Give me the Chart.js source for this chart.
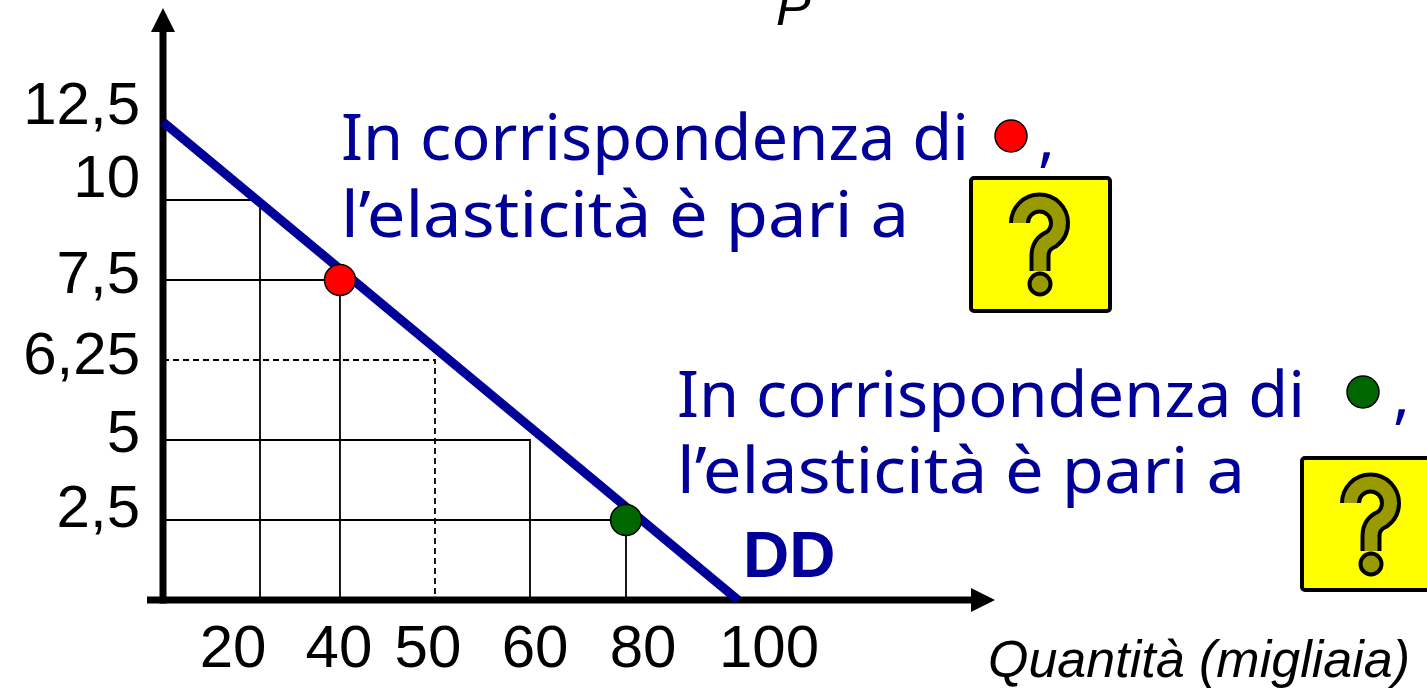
<!DOCTYPE html>
<html>
<head>
<meta charset="utf-8">
<script src="https://cdn.jsdelivr.net/npm/chart.js@4.4.1/dist/chart.umd.min.js"></script>
<style>
    html, body { margin: 0; padding: 0; background: #fff; }
    #wrap { width: 1427px; height: 692px; }
</style>
</head>
<body>
<div id="wrap"><canvas id="chart"></canvas></div>
<script>
// demand curve DD: P = 12.5 - Q/8
const demandQ = [0, 100]
const demandP = [12.5, 0]

// the two marked points
const pointQ = [40, 80]
const pointP = [7.5, 2.5]
const pointColors = ['#ff0000', '#006600']

// drop lines to the axes (the 50 / 6,25 one is dashed)
const guideQ = [20, 40, 50, 60, 80]
const guideP = [10, 7.5, 6.25, 5, 2.5]
const guideDashed = [false, false, true, false, false]

// axis labels
const xTicks = [20, 40, 50, 60, 80, 100]
const yTicks = [2.5, 5, 6.25, 7.5, 10, 12.5]
const xTitle = 'Quantità (migliaia)'
const yTitle = 'P'
const curveLabel = 'DD'
const noteLine1 = 'In corrispondenza di'
const noteLine2 = 'l’elasticità è pari a'

const BLUE = '#000099'

// the slide is not drawn to scale, so the axes map values piecewise
class PiecewiseScale extends Chart.LinearScale {
    static id = 'piecewise'
    static defaults = {}

    toDecimal(v) {
        const a = this.options.anchors
        if (v <= a[0][0]) return a[0][1]
        for (let i = 1; i < a.length; i++) {
            if (v <= a[i][0]) {
                const [v0, d0] = a[i - 1], [v1, d1] = a[i]
                return d0 + (v - v0) / (v1 - v0) * (d1 - d0)
            }
        }
        return a[a.length - 1][1]
    }

    getPixelForValue(v) {
        return v == null ? NaN : this.getPixelForDecimal(this.toDecimal(v))
    }

    getValueForPixel(p) {
        const d = this.getDecimalForPixel(p)
        const a = this.options.anchors
        for (let i = 1; i < a.length; i++) {
            if (d <= a[i][1]) {
                const [v0, d0] = a[i - 1], [v1, d1] = a[i]
                return v0 + (d - d0) / (d1 - d0) * (v1 - v0)
            }
        }
        return a[a.length - 1][0]
    }

    // labels on the slide sit a little off their grid lines
    getPixelForTick(i) {
        const shift = this.options.labelShift || []
        return super.getPixelForTick(i) + (shift[i] || 0)
    }
}
Chart.register(PiecewiseScale)

const fmt = v => String(v).replace('.', ',')

function guideSet(i) {
    return {
        data: [{x: 0, y: guideP[i]}, {x: guideQ[i], y: guideP[i]}, {x: guideQ[i], y: 0}],
        borderColor: '#000',
        borderWidth: 1.8,
        borderDash: guideDashed[i] ? [6, 4] : [],
        pointRadius: 0,
        order: 3,
        clip: false
    }
}

function scaledText(ctx, str, x, y, width) {
    const w = ctx.measureText(str).width
    ctx.save()
    ctx.translate(x, y)
    ctx.scale(width / w, 1)
    ctx.fillText(str, 0, 0)
    ctx.restore()
}

function dot(ctx, x, y, color) {
    ctx.beginPath()
    ctx.arc(x, y, 16, 0, Math.PI * 2)
    ctx.fillStyle = color
    ctx.fill()
    ctx.lineWidth = 1.5
    ctx.strokeStyle = '#000'
    ctx.stroke()
}

// yellow clip-art box with an outlined question mark
function questionBox(ctx, x, y, w, h) {
    ctx.save()
    ctx.beginPath()
    ctx.roundRect(x, y, w, h, 3)
    ctx.fillStyle = '#ffff00'
    ctx.fill()
    ctx.lineWidth = 4
    ctx.strokeStyle = '#000'
    ctx.stroke()

    ctx.translate(x, y)
    const hook = () => {
        ctx.beginPath()
        ctx.arc(68.5, 45, 20, Math.PI, Math.PI * 2.3)
        ctx.quadraticCurveTo(69, 66, 69, 78)
        ctx.lineTo(69, 93)
    }
    ctx.lineJoin = 'round'
    hook()
    ctx.lineWidth = 21
    ctx.strokeStyle = '#000'
    ctx.stroke()
    hook()
    ctx.lineWidth = 13
    ctx.strokeStyle = '#999900'
    ctx.stroke()

    ctx.beginPath()
    ctx.arc(69, 106, 10.5, 0, Math.PI * 2)
    ctx.fillStyle = '#999900'
    ctx.fill()
    ctx.lineWidth = 4
    ctx.strokeStyle = '#000'
    ctx.stroke()
    ctx.restore()
}

const axesPlugin = {
    id: 'arrowAxes',
    beforeDatasetsDraw(chart) {
        const {ctx, chartArea: a} = chart
        ctx.save()
        ctx.fillStyle = '#000'
        // x axis with arrow
        ctx.fillRect(a.left - 16, a.bottom - 3.5, a.right - 23 - (a.left - 16), 7)
        ctx.beginPath()
        ctx.moveTo(a.right, a.bottom)
        ctx.lineTo(a.right - 24, a.bottom - 12)
        ctx.lineTo(a.right - 24, a.bottom + 12)
        ctx.closePath()
        ctx.fill()
        // y axis with arrow
        ctx.fillRect(a.left - 3.5, a.top + 22, 7, a.bottom + 3.5 - (a.top + 22))
        ctx.beginPath()
        ctx.moveTo(a.left, a.top)
        ctx.lineTo(a.left - 12, a.top + 24)
        ctx.lineTo(a.left + 12, a.top + 24)
        ctx.closePath()
        ctx.fill()
        ctx.restore()
    }
}

const notesPlugin = {
    id: 'notes',
    afterDraw(chart) {
        const ctx = chart.ctx
        ctx.save()
        ctx.textAlign = 'left'
        ctx.textBaseline = 'alphabetic'

        // axis titles
        ctx.fillStyle = '#000'
        ctx.font = 'italic 52px "Liberation Sans", Arial, sans-serif'
        ctx.fillText(yTitle, 776, 25)
        ctx.fillText(xTitle, 988, 677)

        // curve name
        ctx.fillStyle = BLUE
        ctx.font = 'bold 64px "Liberation Sans", Arial, sans-serif'
        ctx.fillText(curveLabel, 743, 577)

        // the two questions
        ctx.font = '63px "Noto Sans", sans-serif'
        scaledText(ctx, noteLine1, 341, 160, 628)
        scaledText(ctx, noteLine2, 341, 237, 568)
        ctx.fillText(',', 1038, 160)
        scaledText(ctx, noteLine1, 677, 417, 628)
        scaledText(ctx, noteLine2, 677, 493, 568)
        ctx.fillText(',', 1393, 417)

        dot(ctx, 1011, 136, pointColors[0])
        dot(ctx, 1363, 392, pointColors[1])

        questionBox(ctx, 971, 178, 139, 133)
        questionBox(ctx, 1302, 458, 139, 132)
        ctx.restore()
    }
}

new Chart('chart', {
    type: 'line',
    data: {
        datasets: [
            {
                data: pointQ.map((q, i) => ({x: q, y: pointP[i]})),
                showLine: false,
                pointRadius: 15.5,
                pointBackgroundColor: pointColors,
                pointBorderColor: '#000',
                pointBorderWidth: 1.5,
                order: 1,
                clip: false
            },
            {
                data: demandQ.map((q, i) => ({x: q, y: demandP[i]})),
                borderColor: BLUE,
                borderWidth: 9,
                pointRadius: 0,
                order: 2,
                clip: false
            },
            ...guideQ.map((q, i) => guideSet(i))
        ]
    },
    options: {
        responsive: true,
        maintainAspectRatio: false,
        animation: false,
        events: [],
        layout: {autoPadding: false, padding: {left: 0, top: 8, right: 432, bottom: 0}},
        plugins: {legend: {display: false}, tooltip: {enabled: false}},
        scales: {
            x: {
                type: 'piecewise',
                min: 0,
                max: 140,
                anchors: [[0, 0], [20, 0.1166], [40, 0.2127], [50, 0.3269], [60, 0.4411], [80, 0.5565], [100, 0.6911], [140, 1]],
                labelShift: [-27, -1, -7, 5, 17, 31],
                grid: {display: false, drawTicks: false},
                border: {display: false},
                afterBuildTicks: s => { s.ticks = xTicks.map(v => ({value: v})) },
                afterFit: s => { s.height = 92; s.paddingLeft = 0; s.paddingRight = 0 },
                ticks: {
                    autoSkip: false,
                    maxRotation: 0,
                    padding: 14,
                    color: '#000',
                    font: {family: '"Liberation Sans", Arial, sans-serif', size: 60},
                    callback: v => fmt(v)
                }
            },
            y: {
                type: 'piecewise',
                min: 0,
                max: 16,
                anchors: [[0, 0], [2.5, 0.1351], [5, 0.2703], [6.25, 0.4054], [7.5, 0.5405], [10, 0.6757], [12.5, 0.8074], [16, 1]],
                labelShift: [-10, -5, -3, -4, -20, -15],
                grid: {display: false, drawTicks: false},
                border: {display: false},
                afterBuildTicks: s => { s.ticks = yTicks.map(v => ({value: v})) },
                afterFit: s => { s.width = 163; s.paddingTop = 0; s.paddingBottom = 0 },
                ticks: {
                    autoSkip: false,
                    padding: 23,
                    color: '#000',
                    font: {family: '"Liberation Sans", Arial, sans-serif', size: 60},
                    callback: v => fmt(v)
                }
            }
        }
    },
    plugins: [axesPlugin, notesPlugin]
})
</script>
</body>
</html>
